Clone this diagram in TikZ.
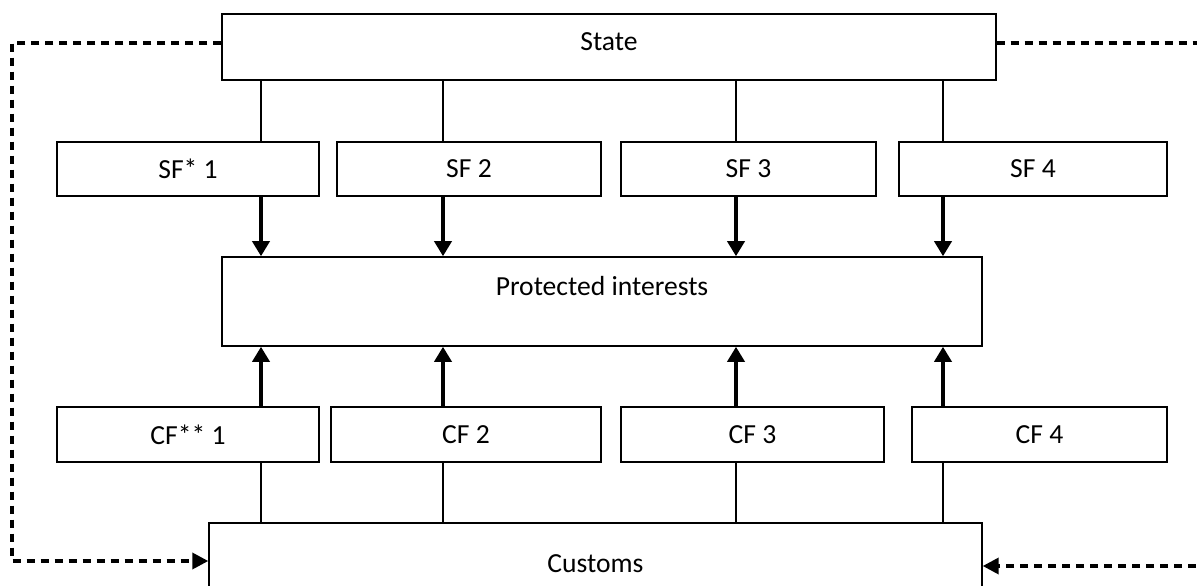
\documentclass[tikz,border=0pt]{standalone}
\usepackage{fontspec}
\setmainfont{Carlito}
\usetikzlibrary{arrows.meta}

\begin{document}
\begin{tikzpicture}[x=0.02cm, y=-0.02cm,
    every node/.style={draw, rectangle, inner sep=0pt, line width=0.9pt,
      font=\fontsize{15.7}{19}\selectfont},
    flow/.style={-{Triangle[length=0.3cm, width=0.34cm]}, line width=2pt},
    link/.style={line width=0.8pt},
    feedback/.style={line width=2pt, dash pattern=on 0.17cm off 0.11cm}]
          \useasboundingbox (0,0) rectangle (1197,585);
          \clip (0,0) rectangle (1197,585);

          % Nodos
          \node[minimum width=15.48cm, minimum height=1.32cm,
                text height=0.35cm, text depth=0.23cm] (state) at (609,47) {State};
          \node[minimum width=5.24cm, minimum height=1.08cm] (sf1) at (188,169) {SF* 1};
          \node[minimum width=5.28cm, minimum height=1.08cm] (sf2) at (469,169) {SF 2};
          \node[minimum width=5.1cm, minimum height=1.08cm] (sf3) at (748.5,169) {SF 3};
          \node[minimum width=5.36cm, minimum height=1.08cm] (sf4) at (1033,169) {SF 4};
          \node[minimum width=15.2cm, minimum height=1.78cm,
                text height=0.35cm, text depth=0.59cm] (pi) at (602,301.5) {Protected interests};
          \node[minimum width=5.24cm, minimum height=1.1cm] (cf1) at (188,434.5) {CF** 1};
          \node[minimum width=5.4cm, minimum height=1.1cm] (cf2) at (466,434.5) {CF 2};
          \node[minimum width=5.26cm, minimum height=1.1cm] (cf3) at (752.5,434.5) {CF 3};
          \node[minimum width=5.1cm, minimum height=1.1cm] (cf4) at (1039.5,434.5) {CF 4};
          \node[minimum width=15.46cm, minimum height=1.64cm] (customs) at (595.5,564) {Customs};

          % Columnas y esquinas
          \coordinate (k1) at (261,0);
          \coordinate (k2) at (443,0);
          \coordinate (k3) at (736,0);
          \coordinate (k4) at (943,0);
          \coordinate (lx) at (12,300);
          \coordinate (rx) at (1210,300);

          % Aristas
          \foreach \i in {1,2,3,4} {
            \draw[link] (state.south -| k\i) -- (sf\i.north -| k\i);
            \draw[flow] (sf\i.south -| k\i) -- (pi.north -| k\i);
            \draw[flow] (cf\i.north -| k\i) -- (pi.south -| k\i);
            \draw[link] (cf\i.south -| k\i) -- (customs.north -| k\i);
          }

          % Retroalimentacion
          \draw[feedback, -{Triangle[length=0.32cm, width=0.32cm]}]
            ([yshift=0.08cm]state.west) -| (lx) |- ([yshift=0.06cm]customs.west);
          \draw[feedback] ([yshift=0.08cm]state.east) -- ([yshift=0.08cm]state.east -| rx);
          \draw[feedback, -{Triangle[length=0.32cm, width=0.32cm]}]
            ([yshift=-0.04cm]customs.east -| rx) -- ([yshift=-0.04cm]customs.east);
        \end{tikzpicture}
\end{document}
